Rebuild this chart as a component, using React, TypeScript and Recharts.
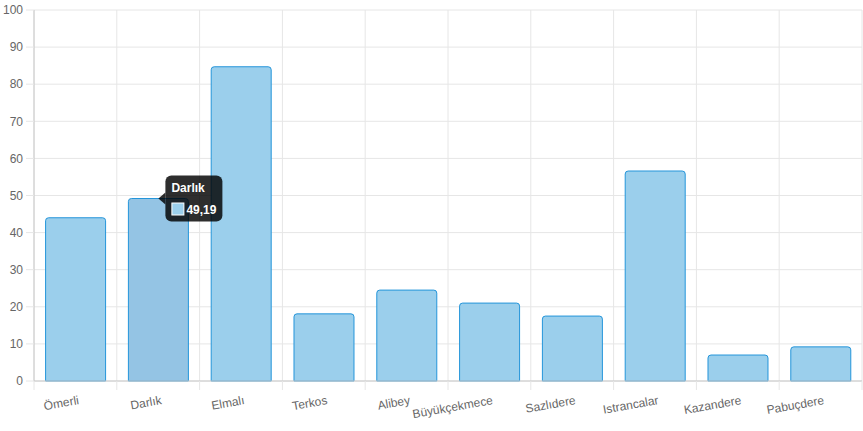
import React from "react";
import { BarChart, Bar, XAxis, YAxis, CartesianGrid, Cell, LabelList } from "recharts";

// Baraj doluluk oranları (%)
const categories = [
  "Ömerli",
  "Darlık",
  "Elmalı",
  "Terkos",
  "Alibey",
  "Büyükçekmece",
  "Sazlıdere",
  "Istrancalar",
  "Kazandere",
  "Pabuçdere",
];
const values = [44.0, 49.19, 84.7, 18.1, 24.5, 21.0, 17.5, 56.6, 7.0, 9.2];
const yTicks = [0, 10, 20, 30, 40, 50, 60, 70, 80, 90, 100];
const hoveredIndex = 1;

const data = categories.map((name, i) => ({ name, value: values[i] }));

const FONT = "'Liberation Sans', Arial, Helvetica, sans-serif";
const GRID = "#e6e6e6";
const AXIS = "#c8c8c8";
const FILL = "#9BCFEC";
const FILL_HOVER = "#94C4E4";
const STROKE = "#2495DA";

const W = 863;
const H = 431;
const MARGIN = { top: 10, right: 1, bottom: 0, left: 0 };
const Y_WIDTH = 34;
const X_HEIGHT = 50;

function XTick(props: any) {
  const { x, y, payload, index } = props;
  const band = (W - MARGIN.left - MARGIN.right - Y_WIDTH) / categories.length;
  const top = y;
  return (
    <g>
      <line x1={x - band / 2} x2={x - band / 2} y1={top} y2={top + 9} stroke={GRID} />
      {index === categories.length - 1 && (
        <line x1={x + band / 2} x2={x + band / 2} y1={top} y2={top + 9} stroke={GRID} />
      )}
      <text
        x={x + 4}
        y={top + 23}
        textAnchor="end"
        fill="#666"
        fontSize={12}
        fontFamily={FONT}
        transform={`rotate(-10, ${x + 4}, ${top + 23})`}
      >
        {payload.value}
      </text>
    </g>
  );
}

function TooltipLabel(props: any) {
  const { x, y, width, index, value } = props;
  if (index !== hoveredIndex) return null;
  const tipX = x + width / 2;
  const tipY = y;
  const bx = tipX + 7;
  const by = tipY - 23;
  const bw = 57;
  const bh = 46;
  const text = Number(value).toFixed(2).replace(".", ",");
  return (
    <g fontFamily={FONT}>
      <rect x={bx} y={by} width={bw} height={bh} rx={6} fill="rgba(0,0,0,0.82)" />
      <path d={`M${tipX},${tipY} L${bx},${tipY - 6} L${bx},${tipY + 6} Z`} fill="rgba(0,0,0,0.82)" />
      <text x={bx + 6} y={by + 16} fill="#fff" fontSize={12} fontWeight="bold">
        {categories[index]}
      </text>
      <rect x={bx + 6.5} y={by + 27.5} width={12} height={12} fill={FILL} stroke="#fff" strokeWidth={1} />
      <text x={bx + 21} y={by + 38} fill="#fff" fontSize={12} fontWeight="bold">
        {text}
      </text>
    </g>
  );
}

export default function App() {
  return (
    <div style={{ position: "absolute", left: 0, top: 0, background: "#fff" }}>
      <BarChart width={W} height={H} data={data} margin={MARGIN} barCategoryGap="14%">
        <CartesianGrid
          stroke={GRID}
          verticalCoordinatesGenerator={({ offset }: any) =>
            categories.map((_, i) => offset.left + (i * offset.width) / categories.length).concat([offset.left + offset.width])
          }
        />
        <XAxis
          dataKey="name"
          height={X_HEIGHT}
          interval={0}
          tickLine={false}
          tickSize={0}
          tickMargin={0}
          axisLine={{ stroke: AXIS }}
          tick={<XTick />}
        />
        <YAxis
          width={Y_WIDTH}
          domain={[0, 100]}
          ticks={yTicks}
          interval={0}
          tickSize={8}
          tickMargin={3}
          tickLine={{ stroke: GRID }}
          axisLine={{ stroke: AXIS }}
          tick={{ fill: "#666", fontSize: 12, fontFamily: FONT }}
        />
        <Bar dataKey="value" stroke={STROKE} strokeWidth={1} radius={[3, 3, 0, 0]} isAnimationActive={false}>
          {data.map((_, i) => (
            <Cell key={i} fill={i === hoveredIndex ? FILL_HOVER : FILL} />
          ))}
          <LabelList dataKey="value" content={<TooltipLabel />} />
        </Bar>
      </BarChart>
    </div>
  );
}
